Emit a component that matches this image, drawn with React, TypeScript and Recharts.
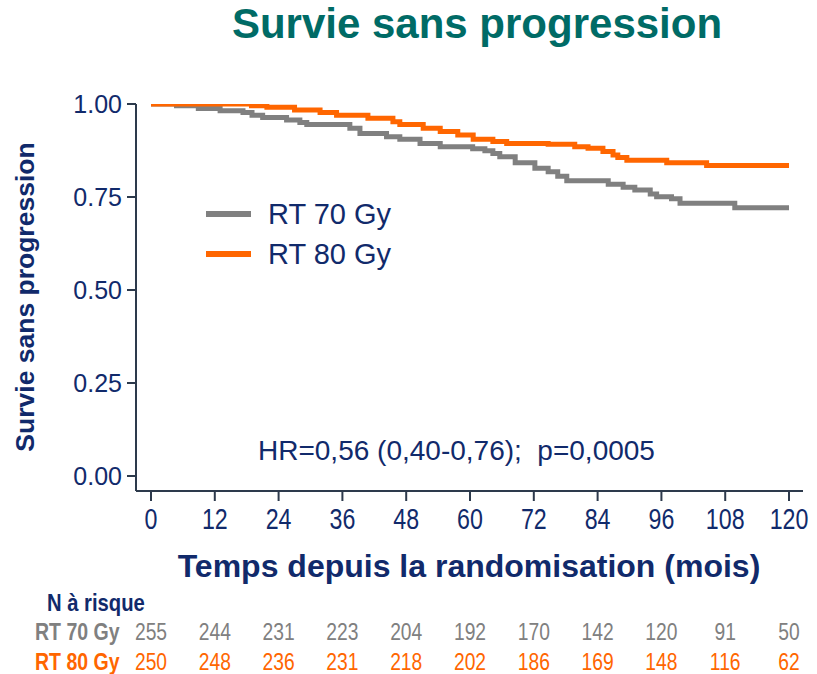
import React from 'react';
import { LineChart, Line, XAxis, YAxis, Legend } from 'recharts';

// Kaplan-Meier steps (months, survival)
const rt70Months = [0, 4.8, 8.9, 13, 17.3, 19, 21, 25.5, 28, 29.3, 37.4, 39.3, 44.3, 46.8, 50.6, 54.4, 60.5, 62.8, 64.3, 65.6, 68.5, 72.2, 74.7, 76.5, 78.2, 86, 88.8, 91, 93.9, 95.1, 97.9, 99.5, 109.8, 120];
const rt70Surv = [1.0, 0.995, 0.988, 0.982, 0.977, 0.97, 0.964, 0.957, 0.95, 0.945, 0.935, 0.921, 0.912, 0.905, 0.894, 0.885, 0.88, 0.874, 0.867, 0.858, 0.842, 0.827, 0.818, 0.806, 0.794, 0.784, 0.776, 0.769, 0.758, 0.751, 0.745, 0.733, 0.721, 0.721];

const rt80Months = [0, 18.9, 21.8, 27, 31.8, 34.9, 40.8, 45.5, 46.8, 51.2, 54.4, 57.7, 60.6, 64.3, 66.9, 74.7, 79.7, 82.2, 85, 86.9, 87.8, 89.5, 97, 104.5, 120];
const rt80Surv = [1.0, 0.995, 0.991, 0.984, 0.977, 0.97, 0.962, 0.952, 0.945, 0.935, 0.926, 0.917, 0.905, 0.899, 0.894, 0.892, 0.885, 0.881, 0.872, 0.863, 0.856, 0.849, 0.842, 0.835, 0.835];

const monthTicks = [0, 12, 24, 36, 48, 60, 72, 84, 96, 108, 120];
const survTicks = [0, 0.25, 0.5, 0.75, 1];
const atRisk70 = [255, 244, 231, 223, 204, 192, 170, 142, 120, 91, 50];
const atRisk80 = [250, 248, 236, 231, 218, 202, 186, 169, 148, 116, 62];

const NAVY = '#112a6b';
const AXIS = '#2d3a4c';
const GRAY = '#808080';
const ORANGE = '#ff6600';
const TEAL = '#006b66';
const SANS = '"Liberation Sans", Arial, sans-serif';

const rt70 = rt70Months.map((t, i) => ({ t, s: rt70Surv[i] }));
const rt80 = rt80Months.map((t, i) => ({ t, s: rt80Surv[i] }));

// condensed look of the original: squeeze glyphs horizontally
function Squeezed({ x, y, fill, size, bold, scale, anchor = 'middle', dy, children }: any) {
  return (
    <text
      transform={`translate(${x},${y}) scale(${scale},1)`}
      dy={dy}
      textAnchor={anchor}
      fill={fill}
      fontSize={size}
      fontWeight={bold ? 'bold' : 'normal'}
      fontFamily={SANS}
    >
      {children}
    </text>
  );
}

function MonthTick(props: any) {
  const { x, y, payload } = props;
  const i = monthTicks.indexOf(payload.value);
  return (
    <g>
      <Squeezed x={x} y={y} dy="0.71em" fill={NAVY} size={29} scale={0.8}>
        {payload.value}
      </Squeezed>
      <Squeezed x={x} y={640} fill={GRAY} size={23.5} scale={0.82}>
        {atRisk70[i]}
      </Squeezed>
      <Squeezed x={x} y={670} fill={ORANGE} size={23.5} scale={0.82}>
        {atRisk80[i]}
      </Squeezed>
    </g>
  );
}

function KeyBox(props: any) {
  const items = props.payload || [];
  return (
    <div>
      {items.map((it: any) => (
        <div key={it.value} style={{ display: 'flex', alignItems: 'center', height: 40 }}>
          <div style={{ width: 45, height: 6, background: it.color, marginRight: 17 }} />
          <span style={{ fontFamily: SANS, fontSize: 29, color: NAVY }}>{it.value}</span>
        </div>
      ))}
    </div>
  );
}

export default function App() {
  return (
    <div style={{ position: 'absolute', left: 0, top: 0, width: 817, height: 674, background: '#fff' }}>
      <LineChart width={817} height={674} margin={{ top: 104, right: 14, bottom: 143, left: 66 }}>
        <XAxis
          type="number"
          dataKey="t"
          domain={[-2.82, 122.63]}
          ticks={monthTicks}
          allowDataOverflow
          height={40}
          axisLine={{ stroke: AXIS, strokeWidth: 2 }}
          tickLine={{ stroke: AXIS, strokeWidth: 2 }}
          tickSize={10}
          tickMargin={7}
          tick={<MonthTick />}
          interval={0}
        />
        <YAxis
          type="number"
          domain={[-0.0403, 1]}
          ticks={survTicks}
          allowDataOverflow
          width={70}
          axisLine={{ stroke: AXIS, strokeWidth: 2 }}
          tickLine={{ stroke: AXIS, strokeWidth: 2 }}
          tickSize={9}
          tickMargin={5}
          tickFormatter={(v: number) => v.toFixed(2)}
          tick={{ fill: NAVY, fontSize: 25, fontFamily: SANS }}
          interval={0}
        />
        <Legend
          layout="vertical"
          verticalAlign="middle"
          align="center"
          content={<KeyBox />}
          wrapperStyle={{ left: 206, top: 194, width: 220, height: 80 }}
        />
        <Line
          data={rt70}
          dataKey="s"
          name="RT 70 Gy"
          type="stepAfter"
          stroke={GRAY}
          strokeWidth={5}
          dot={false}
          isAnimationActive={false}
        />
        <Line
          data={rt80}
          dataKey="s"
          name="RT 80 Gy"
          type="stepAfter"
          stroke={ORANGE}
          strokeWidth={5}
          dot={false}
          isAnimationActive={false}
        />
      </LineChart>
      <svg
        width={817}
        height={674}
        style={{ position: 'absolute', left: 0, top: 0, pointerEvents: 'none' }}
      >
        <text x={477} y={38} textAnchor="middle" fill={TEAL} fontSize={42} fontWeight="bold" fontFamily={SANS}>
          Survie sans progression
        </text>
        <text
          transform="translate(34,297) rotate(-90)"
          textAnchor="middle"
          fill={NAVY}
          fontSize={26.5}
          fontWeight="bold"
          fontFamily={SANS}
        >
          Survie sans progression
        </text>
        <text x={469} y={577} textAnchor="middle" fill={NAVY} fontSize={32} fontWeight="bold" fontFamily={SANS}>
          Temps depuis la randomisation (mois)
        </text>
        <text x={258} y={460} fill={NAVY} fontSize={28} fontFamily={SANS} style={{ whiteSpace: 'pre' }}>
          {'HR=0,56 (0,40-0,76);  p=0,0005'}
        </text>
        <Squeezed x={47} y={611} fill={NAVY} size={23} bold scale={0.88} anchor="start">
          N à risque
        </Squeezed>
        <Squeezed x={35} y={640} fill={GRAY} size={23.5} bold scale={0.83} anchor="start">
          RT 70 Gy
        </Squeezed>
        <Squeezed x={35} y={670} fill={ORANGE} size={23.5} bold scale={0.83} anchor="start">
          RT 80 Gy
        </Squeezed>
      </svg>
    </div>
  );
}
